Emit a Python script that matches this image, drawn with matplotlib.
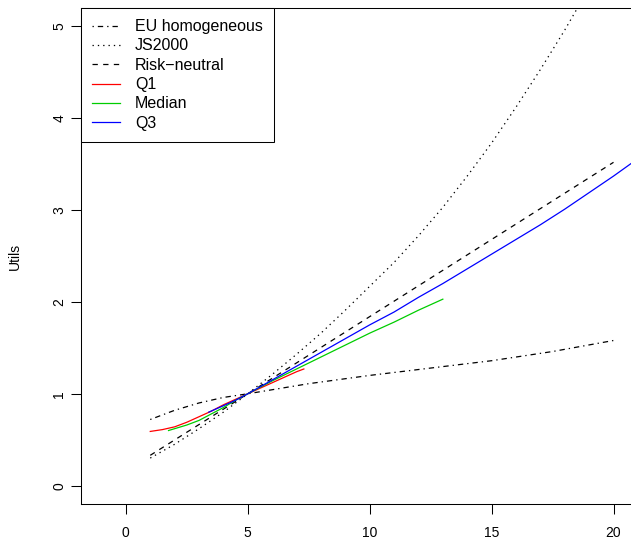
import matplotlib
matplotlib.use("Agg")
import matplotlib.pyplot as plt

plt.rcParams['font.family'] = ['Liberation Sans', 'DejaVu Sans']
plt.rcParams['lines.scale_dashes'] = False

# values
eu_x = [1, 2, 3, 4, 5, 7.5, 10, 12.5, 15, 17.5, 20]
eu_y = [0.72, 0.82, 0.90, 0.96, 1.0, 1.11, 1.20, 1.28, 1.36, 1.46, 1.58]

js_x = [1, 2, 3, 4, 5, 6, 7, 8, 9, 10, 11, 12, 13, 14, 15, 16, 17, 18, 19, 20]
js_y = [0.30, 0.45, 0.62, 0.80, 1.0, 1.21, 1.43, 1.66, 1.91, 2.17, 2.43, 2.72,
        3.03, 3.37, 3.73, 4.12, 4.53, 4.96, 5.42, 5.90]

rn_x = [1, 5, 10, 15, 20]
rn_y = [0.33, 1.0, 1.84, 2.68, 3.52]

q1_x = [1, 1.5, 2, 2.5, 3, 3.5, 4, 4.5, 5, 5.5, 6, 6.5, 7, 7.3]
q1_y = [0.59, 0.61, 0.64, 0.69, 0.75, 0.81, 0.88, 0.94, 1.0, 1.06, 1.12,
        1.18, 1.24, 1.27]

med_x = [1.75, 2, 2.5, 3, 3.5, 4, 4.5, 5, 6, 7, 8, 9, 10, 11, 12, 13]
med_y = [0.60, 0.62, 0.66, 0.71, 0.78, 0.85, 0.93, 1.0, 1.14, 1.27, 1.40,
         1.53, 1.66, 1.78, 1.91, 2.03]

q3_x = [3.4, 4, 4.5, 5, 6, 7, 8, 9, 10, 11, 12, 13, 14, 15, 16, 17, 18, 19,
        20, 21]
q3_y = [0.80, 0.87, 0.93, 1.0, 1.15, 1.30, 1.45, 1.60, 1.75, 1.89, 2.05,
        2.20, 2.36, 2.52, 2.68, 2.84, 3.01, 3.19, 3.37, 3.56]

x_ticks = [0, 5, 10, 15, 20]
y_ticks = [0, 1, 2, 3, 4, 5]

fig = plt.figure(figsize=(6.31, 5.40), dpi=100)
ax = fig.add_axes([81 / 631, 36 / 540, 553 / 631, 496 / 540])

lw = 0.9
ax.plot(eu_x, eu_y, color='black', lw=lw, dashes=[0.96, 2.88, 3.84, 2.88],
        label='EU homogeneous')
ax.plot(js_x, js_y, color='black', lw=lw, dashes=[0.96, 2.88], label='JS2000')
ax.plot(rn_x, rn_y, color='black', lw=lw, dashes=[3.84, 3.84],
        label='Risk\u2212neutral')
ax.plot(q1_x, q1_y, color='#FF0000', lw=lw, label='Q1')
ax.plot(med_x, med_y, color='#00CD00', lw=lw, label='Median')
ax.plot(q3_x, q3_y, color='#0000FF', lw=lw, label='Q3')

ax.set_xlim(-1.84, 20.84)
ax.set_ylim(-0.2, 5.2)
ax.set_xticks(x_ticks)
ax.set_yticks(y_ticks)
ax.tick_params(length=7.5, width=0.75, labelsize=10, color='black')
ax.tick_params(axis='x', pad=8.5)
ax.tick_params(axis='y', pad=3)
for lab in ax.get_yticklabels():
    lab.set_rotation(90)
    lab.set_va('center')
for sp in ax.spines.values():
    sp.set_linewidth(0.75)
ax.set_ylabel('Utils', fontsize=10, labelpad=22)

leg = ax.legend(loc='upper left', bbox_to_anchor=(0, 1), borderaxespad=0,
                fontsize=11.5, fancybox=False, framealpha=1,
                edgecolor='black', handlelength=1.75, handletextpad=0.94,
                labelspacing=0.27, borderpad=0.7)
leg.get_frame().set_linewidth(0.75)

fig.savefig('out.png', dpi=100)
